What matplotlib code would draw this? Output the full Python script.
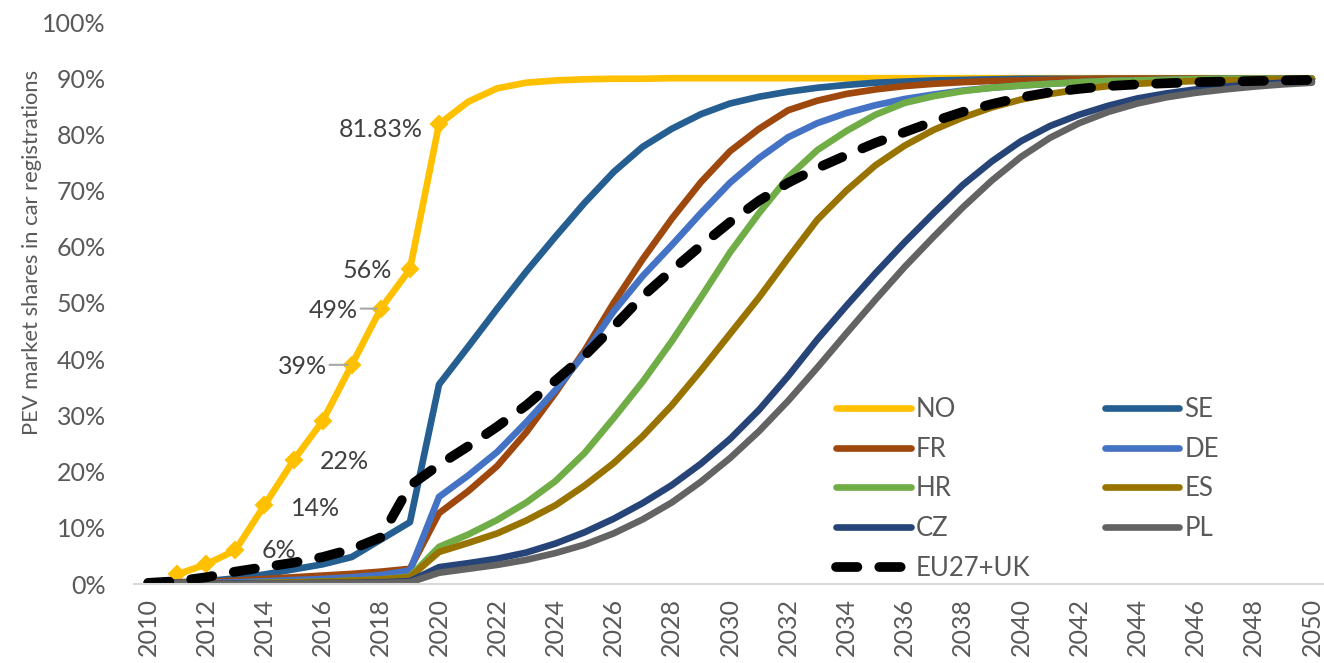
# PEV market share projections by country, 2010-2050
import numpy as np
import matplotlib.pyplot as plt
from matplotlib.lines import Line2D

plt.rcParams['font.family'] = ['Lato', 'DejaVu Sans']

years = np.arange(2010, 2051)
tick_years = np.arange(2010, 2051, 2)

# market shares in % of new car registrations
NO = [np.nan, 1.7, 3.5, 6, 14, 22, 29, 39, 49, 56,
      81.83, 85.8, 88.2, 89.2, 89.6, 89.8, 89.9, 89.9, 90.0, 90.0,
      90.0, 90.0, 90.0, 90.0, 90.0, 90.0, 90.0, 90.0, 90.0, 90.0,
      90.0, 90.0, 90.0, 90.0, 90.0, 90.0, 90.0, 90.0, 90.0, 90.0, 90.0]
SE = [0.1, 0.3, 0.5, 1.0, 1.7, 2.6, 3.5, 4.8, 7.9, 11.0,
      35.5, 42.2, 49.0, 55.6, 61.8, 67.8, 73.3, 77.8, 81.0, 83.6,
      85.5, 86.7, 87.6, 88.3, 88.8, 89.2, 89.4, 89.6, 89.7, 89.8,
      89.9, 89.9, 89.9, 89.9, 89.9, 89.9, 89.9, 89.9, 89.9, 89.9, 89.9]
FR = [0.1, 0.2, 0.4, 0.6, 0.9, 1.2, 1.5, 1.8, 2.2, 2.7,
      12.6, 16.5, 21.0, 27.0, 34.0, 41.5, 50.0, 57.8, 65.0, 71.5,
      77.0, 81.0, 84.3, 86.0, 87.2, 88.0, 88.6, 89.0, 89.3, 89.5,
      89.6, 89.7, 89.8, 89.9, 89.9, 89.9, 89.9, 89.9, 89.9, 89.9, 89.9]
DE = [0.1, 0.1, 0.2, 0.3, 0.5, 0.7, 0.9, 1.2, 1.6, 2.4,
      15.5, 19.3, 23.5, 28.8, 34.5, 41.0, 48.5, 54.8, 60.3, 66.0,
      71.4, 75.8, 79.5, 82.0, 83.8, 85.2, 86.3, 87.1, 87.8, 88.3,
      88.7, 89.0, 89.3, 89.5, 89.6, 89.7, 89.8, 89.9, 89.9, 89.9, 89.9]
HR = [0.0, 0.0, 0.1, 0.1, 0.2, 0.3, 0.4, 0.6, 0.8, 1.3,
      6.6, 8.8, 11.4, 14.5, 18.3, 23.3, 29.5, 36.0, 43.2, 51.0,
      59.0, 66.0, 72.4, 77.2, 80.6, 83.5, 85.6, 86.8, 87.7, 88.3,
      88.7, 89.0, 89.3, 89.5, 89.6, 89.7, 89.8, 89.9, 89.9, 89.9, 89.9]
ES = [0.0, 0.0, 0.1, 0.1, 0.2, 0.3, 0.4, 0.6, 0.8, 1.2,
      5.7, 7.3, 9.0, 11.3, 14.0, 17.5, 21.5, 26.3, 31.8, 38.0,
      44.5, 51.0, 58.0, 64.8, 70.0, 74.5, 78.0, 80.8, 83.0, 84.8,
      86.2, 87.2, 88.0, 88.6, 89.0, 89.3, 89.5, 89.6, 89.7, 89.8, 89.8]
CZ = [0.0, 0.0, 0.0, 0.1, 0.1, 0.1, 0.2, 0.2, 0.3, 0.5,
      3.0, 3.7, 4.5, 5.6, 7.2, 9.2, 11.6, 14.4, 17.6, 21.4,
      25.8, 31.0, 37.0, 43.5, 49.5, 55.3, 60.8, 66.0, 71.0, 75.2,
      78.8, 81.5, 83.5, 85.1, 86.4, 87.3, 88.0, 88.5, 88.9, 89.2, 89.4]
PL = [0.0, 0.0, 0.0, 0.0, 0.1, 0.1, 0.1, 0.1, 0.2, 0.3,
      2.0, 2.7, 3.4, 4.3, 5.5, 7.0, 9.0, 11.5, 14.5, 18.2,
      22.4, 27.2, 32.6, 38.5, 44.6, 50.6, 56.4, 61.8, 67.0, 71.8,
      76.0, 79.4, 82.0, 84.0, 85.5, 86.6, 87.4, 88.0, 88.5, 88.9, 89.2]
EU = [0.2, 0.5, 1.2, 2.2, 3.0, 3.8, 4.8, 6.2, 8.3, 17.5,
      21.2, 24.5, 28.0, 31.8, 36.2, 40.6, 45.8, 51.2, 55.8, 60.2,
      64.4, 68.2, 71.4, 74.0, 76.3, 78.5, 80.4, 82.3, 84.0, 85.4,
      86.6, 87.5, 88.1, 88.6, 88.9, 89.1, 89.3, 89.4, 89.5, 89.6, 89.7]

# Norway data labels: (year, text)
no_labels = [(2013, '6%'), (2014, '14%'), (2015, '22%'), (2017, '39%'),
             (2018, '49%'), (2019, '56%'), (2020, '81.83%')]

series = [('NO', NO, '#FFC000'), ('SE', SE, '#255E91'), ('FR', FR, '#9E480E'),
          ('DE', DE, '#4472C4'), ('HR', HR, '#70AD47'), ('ES', ES, '#997300'),
          ('CZ', CZ, '#264478'), ('PL', PL, '#636363')]

text_col = '#595959'
label_col = '#404040'

fig = plt.figure(figsize=(13.24, 6.63), dpi=100)
ax = fig.add_axes([133.5 / 1324, 79 / 663, 1193 / 1324, 562 / 663])

handles = {}
for name, vals, col in series:
    kw = dict(color=col, lw=4.8, solid_capstyle='round', solid_joinstyle='round')
    if name == 'NO':
        kw.update(marker='D', ms=8.5, mew=1.5, markevery=list(range(1, 11)))
    ax.plot(years, vals, **kw)
    # legend shows plain lines only
    handles[name] = Line2D([], [], color=col, lw=4.8, solid_capstyle='round')

eu_style = dict(color='black', lw=7, linestyle=(0, (2.2, 2.25)), dash_capstyle='round')
ax.plot(years, EU, **eu_style)
handles['EU27+UK'] = Line2D([], [], **eu_style)

# data labels for Norway
for yr, txt in no_labels:
    val = NO[yr - 2010]
    if yr <= 2015:
        off = {2013: (19, 0), 2014: (19, -2), 2015: (19, -1)}[yr]
        ax.annotate(txt, (yr, val), xytext=off, textcoords='offset points',
                    ha='left', va='center', fontsize=18, color=label_col)
    else:
        off = {2017: (-18, -1), 2018: (-16.5, -1), 2019: (-13, -1), 2020: (-11.5, -4)}[yr]
        ax.annotate(txt, (yr, val), xytext=off, textcoords='offset points',
                    ha='right', va='center', fontsize=18, color=label_col)
        if yr in (2017, 2018):
            ax.annotate('', (yr, val), xytext=(off[0] + 2, off[1] + 1),
                        textcoords='offset points',
                        arrowprops=dict(arrowstyle='-', color='#A6A6A6', lw=1.5,
                                        shrinkA=0, shrinkB=3))

ax.set_xlim(2009.5, 2050.5)
ax.set_ylim(0, 100)
ax.set_xticks(tick_years)
ax.set_xticklabels([str(y) for y in tick_years], rotation=90)
ax.set_yticks(np.arange(0, 101, 10))
ax.set_yticklabels([f'{v}%' for v in range(0, 101, 10)])
ax.tick_params(axis='both', length=0, labelsize=18, labelcolor=text_col)
ax.tick_params(axis='x', pad=10)
ax.tick_params(axis='y', pad=20)

for s in ['top', 'right', 'left']:
    ax.spines[s].set_visible(False)
ax.spines['bottom'].set_color('#D9D9D9')
ax.spines['bottom'].set_linewidth(1.5)

fig.text(32 / 1324, 1 - 252 / 663, 'PEV market shares in car registrations',
         rotation=90, ha='center', va='center', fontsize=15.8, color=text_col)

order = ['NO', 'FR', 'HR', 'CZ', 'EU27+UK', 'SE', 'DE', 'ES', 'PL']
leg = ax.legend([handles[k] for k in order], order, ncol=2, frameon=False,
                loc='upper left', bbox_to_anchor=(836 / 1324, 1 - 397 / 663),
                bbox_transform=fig.transFigure, borderpad=0, borderaxespad=0,
                fontsize=18.5, handlelength=2.9, handletextpad=0.2,
                columnspacing=2.9, labelspacing=0.57)
for t in leg.get_texts():
    t.set_color(text_col)

fig.savefig('out.png', dpi=100)
